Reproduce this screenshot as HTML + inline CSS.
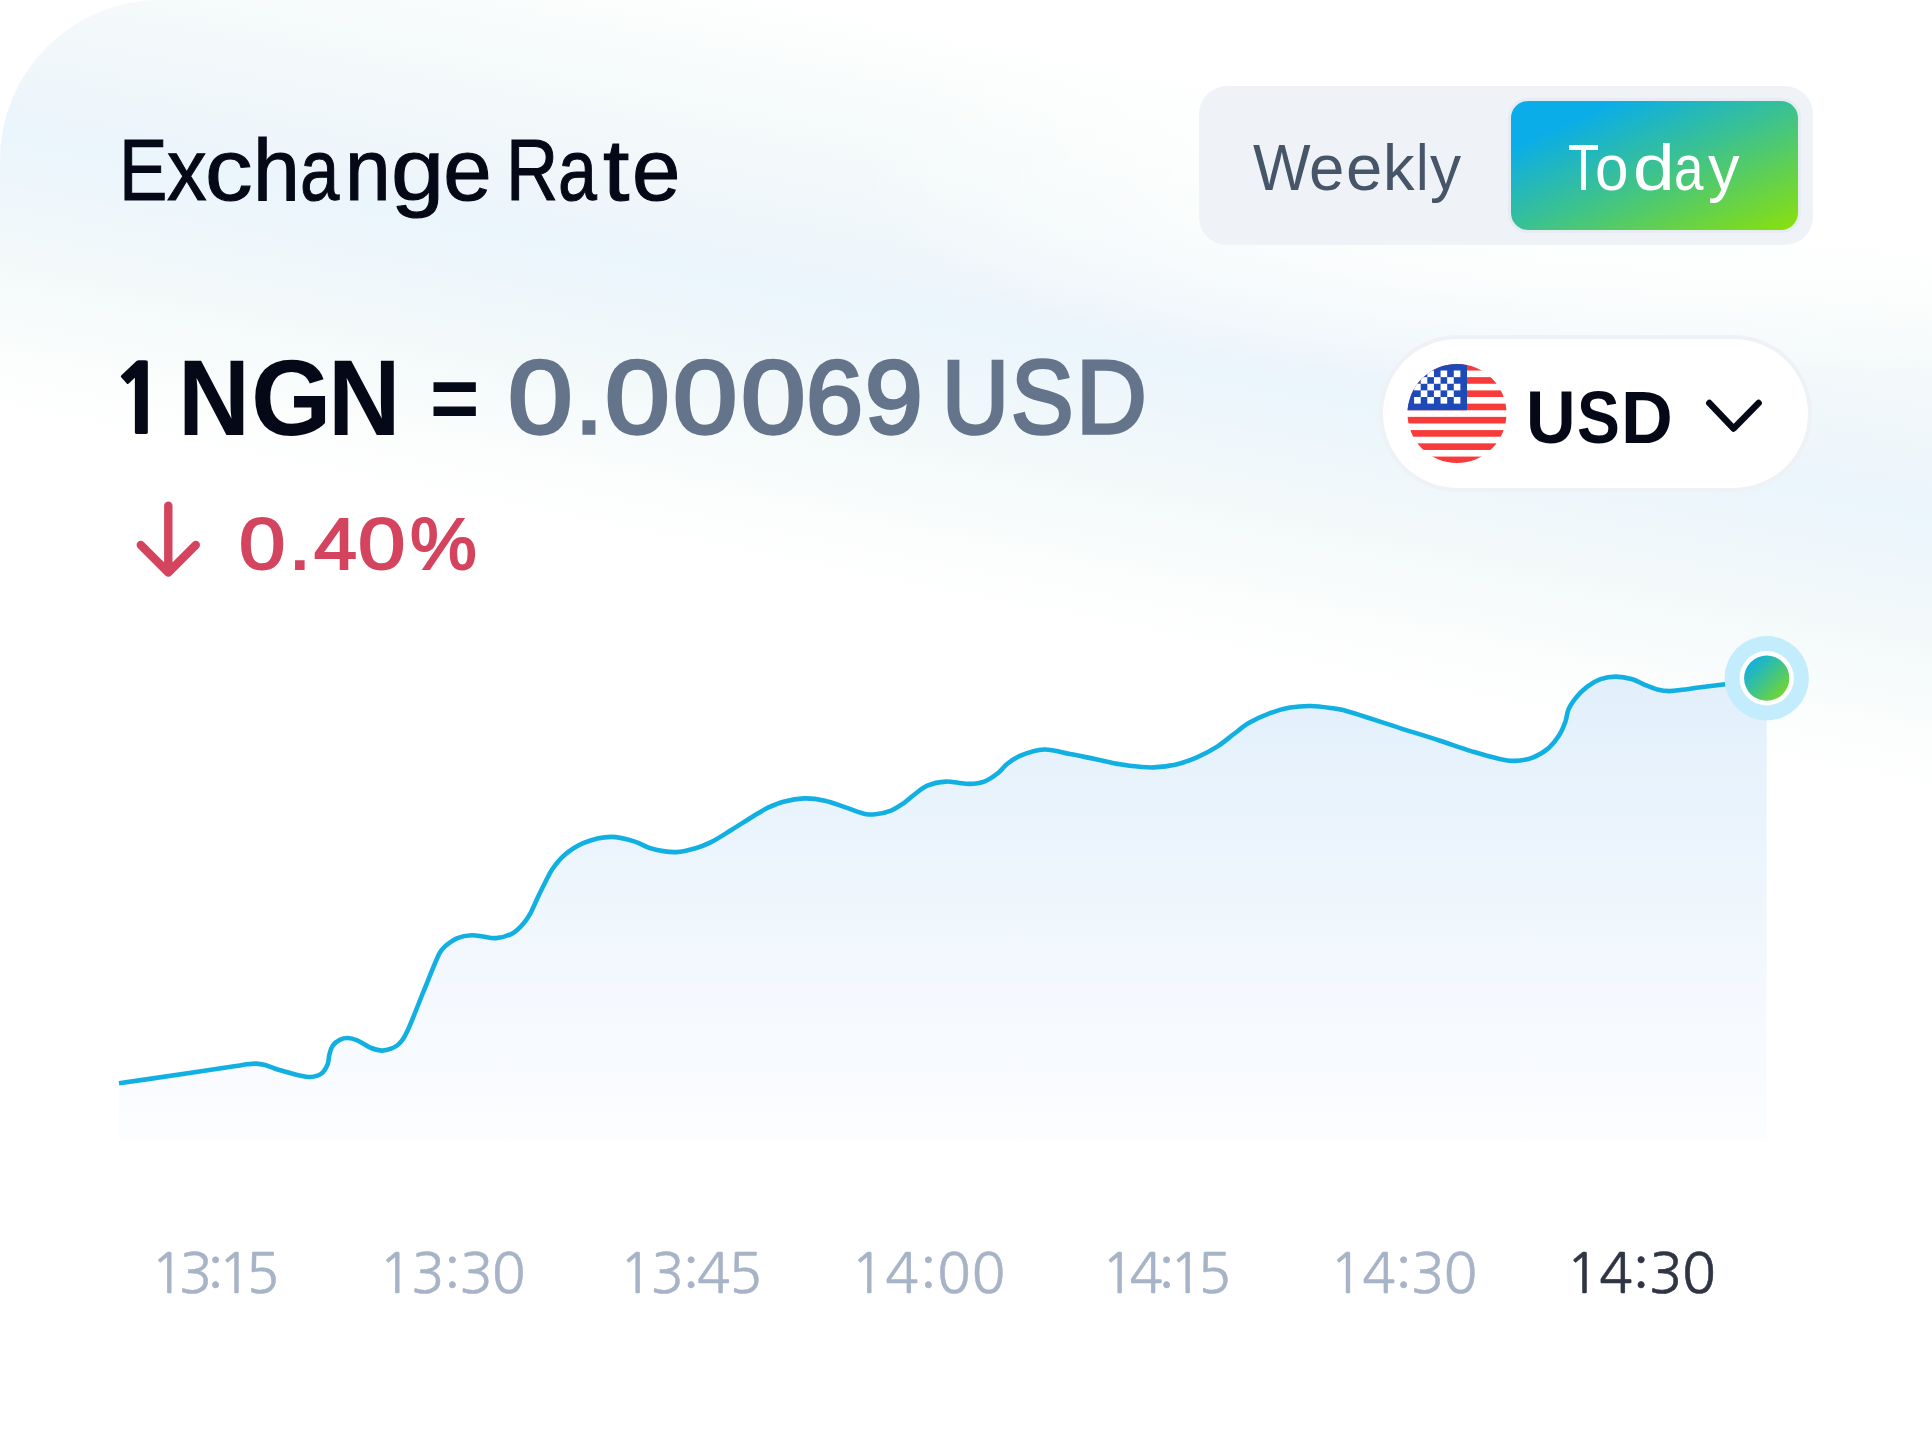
<!DOCTYPE html>
<html><head><meta charset="utf-8">
<style>
*{margin:0;padding:0;box-sizing:border-box}
html,body{width:1932px;height:1447px;overflow:hidden;background:#fff}
body{position:relative;font-family:"Liberation Sans",Arial,sans-serif}
.card{position:absolute;left:0;top:0;width:1932px;height:1447px;border-top-left-radius:160px;overflow:hidden;background:#fff}
.bg1{position:absolute;inset:0;background:linear-gradient(191.15deg,rgba(246,250,250,0) 12%,rgba(245,250,250,1) 19%,rgba(240,247,250,1) 24%,rgba(237,245,252,1) 26.5%,rgba(235,245,252,1) 28.5%,rgba(239,247,251,1) 31.5%,rgba(243,249,249,1) 35%,rgba(247,251,251,1) 37.5%,rgba(252,253,253,1) 40.5%,rgba(255,255,255,0) 44%)}
.bg2{position:absolute;inset:0;background:radial-gradient(800px 220px at 1650px 170px,rgba(255,255,255,0.95) 0%,rgba(255,255,255,0.7) 50%,rgba(255,255,255,0) 100%)}
.inner{display:none}
.rsh{display:none}
.t{position:absolute;white-space:nowrap;line-height:1}
#title{left:118px;top:126px;font-size:87px;color:#050816;letter-spacing:-2.7px}
.toggle{position:absolute;left:1199px;top:86px;width:614px;height:159px;border-radius:28px;background:#eff3f8}
.today{position:absolute;left:1511px;top:101px;width:287px;height:129px;border-radius:17px;background:linear-gradient(to bottom right,#0aade8 18%,#3cc28f 52%,#8be00a 100%);box-shadow:0 0 0 3px #e7ebf2}
#weekly{left:1252.4px;top:136px;font-size:64px;color:#475569}
#todayt{left:1567px;top:136px;font-size:64px;color:#fff;letter-spacing:0.75px}
.rl{position:absolute;top:0;white-space:nowrap;font-size:0;line-height:0}
.g{display:inline-block;position:relative;vertical-align:top;line-height:1;font-size:107px;font-weight:700;color:#050816;transform-origin:0 0;white-space:pre}
.g.tt{font-size:87px;font-weight:400;-webkit-text-stroke:1.1px #050816}
.g.wk{font-size:64px;font-weight:400;color:#475569}
.g.td{font-size:64px;font-weight:400;color:#fff}
.g.pu{font-size:75px;font-weight:700;color:#050816}
.g.s{color:#64748b;font-size:103.5px;font-weight:400;-webkit-text-stroke:3.5px #64748b}
.pill{position:absolute;left:1383px;top:339px;width:425px;height:149px;border-radius:75px;background:#fff;box-shadow:0 0 0 4px #eef1f6}
#usd{left:1526.7px;top:380px;font-size:75px;font-weight:700;color:#050816;transform:scaleX(0.93);transform-origin:0 0}
.g.p{font-size:73px;font-weight:400;color:#d4445f;-webkit-text-stroke:2px #d4445f}
.lbl{position:absolute;top:1244.7px;font-size:56px;font-family:NanumGothic,"Liberation Sans",sans-serif;color:#a7b3c7;-webkit-text-stroke:0.5px #a7b3c7;white-space:nowrap;line-height:1}
.lbl.cur{color:#2f3544;-webkit-text-stroke:0.6px #2f3544}
svg{position:absolute;left:0;top:0}
</style></head><body>
<div class="card"><div class="bg1"></div><div class="bg2"></div><div class="inner"></div><div class="rsh"></div></div>
<div class="rl" style="left:119.26px"><span class="g tt" style="width:48.03px;top:126.00px;transform:scaleX(0.8340)">E</span><span class="g tt" style="width:37.74px;top:126.00px;transform:scaleX(0.9098)">x</span><span class="g tt" style="width:48.16px;top:126.00px;transform:scaleX(1.0919)">c</span><span class="g tt" style="width:46.86px;top:126.00px;transform:scaleX(0.9676)">h</span><span class="g tt" style="width:44.99px;top:126.00px;transform:scaleX(0.8114)">a</span><span class="g tt" style="width:45.76px;top:126.00px;transform:scaleX(0.9432)">n</span><span class="g tt" style="width:52.50px;top:126.00px;transform:scaleX(1.1000)">g</span><span class="g tt" style="width:63.08px;top:126.00px;transform:scaleX(1.0000)">e</span> <span class="g tt" style="width:51.81px;top:126.00px;transform:scaleX(0.8314)">R</span><span class="g tt" style="width:44.82px;top:126.00px;transform:scaleX(0.8023)">a</span><span class="g tt" style="width:28.99px;top:126.00px;transform:scaleX(1.0913)">t</span><span class="g tt" style="width:50.00px;top:126.00px;transform:scaleX(1.0000)">e</span></div>
<div class="toggle"></div>
<div class="today"></div>
<div class="rl" style="left:1253.40px"><span class="g wk" style="width:55.82px;top:136.00px;transform:scaleX(0.9533)">W</span><span class="g wk" style="width:36.42px;top:136.00px;transform:scaleX(0.9933)">e</span><span class="g wk" style="width:37.22px;top:136.00px;transform:scaleX(1.0200)">e</span><span class="g wk" style="width:33.51px;top:136.00px;transform:scaleX(0.9857)">k</span><span class="g wk" style="width:14.13px;top:136.00px;transform:scaleX(0.8833)">l</span><span class="g wk" style="width:40.00px;top:136.00px;transform:scaleX(0.9719)">y</span></div>
<div class="rl" style="left:1568.40px"><span class="g td" style="width:26.98px;top:136.00px;transform:scaleX(0.7973)">T</span><span class="g td" style="width:37.71px;top:136.00px;transform:scaleX(0.9400)">o</span><span class="g td" style="width:41.23px;top:136.00px;transform:scaleX(1.1714)">d</span><span class="g td" style="width:34.08px;top:136.00px;transform:scaleX(0.8273)">a</span><span class="g td" style="width:40.00px;top:136.00px;transform:scaleX(0.9875)">y</span></div>
<div class="rl" style="left:110.70px"><span class="g" style="width:67.78px;top:354.20px;font-size:94.6px;font-weight:800;font-family:NanumGothic,'Liberation Sans',sans-serif">1</span> <span class="g" style="width:72.25px;top:344.70px;transform:scaleX(0.9317)">N</span><span class="g" style="width:77.30px;top:344.70px;transform:scaleX(0.9671)">G</span><span class="g" style="width:102.11px;top:344.70px;transform:scaleX(0.9381)">N</span> <span class="g" style="width:78.31px;top:352.77px;transform:scale(0.7889,0.8390)">=</span> <span class="g s" style="width:66.19px;top:346.30px;transform:scaleX(1.1208)">0</span><span class="g s" style="width:29.91px;top:346.30px;transform:scaleX(0.9692)">.</span><span class="g s" style="width:68.41px;top:346.30px;transform:scaleX(1.1226)">0</span><span class="g s" style="width:68.09px;top:346.30px;transform:scaleX(1.1170)">0</span><span class="g s" style="width:65.48px;top:346.30px;transform:scaleX(1.1208)">0</span><span class="g s" style="width:58.85px;top:346.30px;transform:scaleX(0.9902)">6</span><span class="g s" style="width:76.83px;top:346.30px;transform:scaleX(1.0020)">9</span> <span class="g s" style="width:69.06px;top:346.30px;transform:scaleX(0.8952)">U</span><span class="g s" style="width:64.59px;top:346.30px;transform:scaleX(0.9048)">S</span><span class="g s" style="width:70.00px;top:346.30px;transform:scaleX(0.9462)">D</span></div>
<div class="pill"></div>
<svg width="1932" height="1447" viewBox="0 0 1932 1447">
<defs>
<linearGradient id="fillg" x1="0" y1="675" x2="0" y2="1140" gradientUnits="userSpaceOnUse">
<stop offset="0" stop-color="#e1effb"/>
<stop offset="0.27" stop-color="#e9f3fc"/>
<stop offset="0.55" stop-color="#f0f7fd"/>
<stop offset="0.7" stop-color="#f5f9fe"/>
<stop offset="0.88" stop-color="#f9fbfe"/>
<stop offset="1" stop-color="#fcfdff"/>
</linearGradient>
<linearGradient id="dotg" x1="0" y1="0" x2="1" y2="1">
<stop offset="0.1" stop-color="#0eaee6"/>
<stop offset="0.5" stop-color="#3ec38d"/>
<stop offset="1" stop-color="#86dc10"/>
</linearGradient>
<clipPath id="fl"><circle cx="1457" cy="413.5" r="49.5"/></clipPath>
</defs>
<g clip-path="url(#fl)">
<rect x="1405" y="363" width="104" height="102" fill="#fff"/>
<rect x="1405" y="363.90" width="104" height="6.62" fill="#f83a3a"/>
<rect x="1405" y="377.14" width="104" height="6.62" fill="#f83a3a"/>
<rect x="1405" y="390.38" width="104" height="6.62" fill="#f83a3a"/>
<rect x="1405" y="403.62" width="104" height="6.62" fill="#f83a3a"/>
<rect x="1405" y="416.86" width="104" height="6.62" fill="#f83a3a"/>
<rect x="1405" y="430.10" width="104" height="6.62" fill="#f83a3a"/>
<rect x="1405" y="443.34" width="104" height="6.62" fill="#f83a3a"/>
<rect x="1405" y="456.58" width="104" height="6.62" fill="#f83a3a"/>
<rect x="1405" y="363.90" width="62.00" height="46.34" fill="#1e4ab9"/>
<rect x="1414.11" y="370.52" width="6.61" height="6.62" fill="#fff"/>
<rect x="1427.33" y="370.52" width="6.61" height="6.62" fill="#fff"/>
<rect x="1440.56" y="370.52" width="6.61" height="6.62" fill="#fff"/>
<rect x="1453.78" y="370.52" width="6.61" height="6.62" fill="#fff"/>
<rect x="1420.72" y="377.14" width="6.61" height="6.62" fill="#fff"/>
<rect x="1433.94" y="377.14" width="6.61" height="6.62" fill="#fff"/>
<rect x="1447.17" y="377.14" width="6.61" height="6.62" fill="#fff"/>
<rect x="1414.11" y="383.76" width="6.61" height="6.62" fill="#fff"/>
<rect x="1427.33" y="383.76" width="6.61" height="6.62" fill="#fff"/>
<rect x="1440.56" y="383.76" width="6.61" height="6.62" fill="#fff"/>
<rect x="1453.78" y="383.76" width="6.61" height="6.62" fill="#fff"/>
<rect x="1420.72" y="390.38" width="6.61" height="6.62" fill="#fff"/>
<rect x="1433.94" y="390.38" width="6.61" height="6.62" fill="#fff"/>
<rect x="1447.17" y="390.38" width="6.61" height="6.62" fill="#fff"/>
<rect x="1414.11" y="397.00" width="6.61" height="6.62" fill="#fff"/>
<rect x="1427.33" y="397.00" width="6.61" height="6.62" fill="#fff"/>
<rect x="1440.56" y="397.00" width="6.61" height="6.62" fill="#fff"/>
<rect x="1453.78" y="397.00" width="6.61" height="6.62" fill="#fff"/>
</g>
<path d="M1709.3 403 L1733.6 428.5 L1758.6 403" fill="none" stroke="#050816" stroke-width="6.5" stroke-linecap="round" stroke-linejoin="round"/>
<path d="M168.3 505.8 V572.5 M140.8 545 L168.3 572.5 L195.8 545" fill="none" stroke="#d4445f" stroke-width="8.4" stroke-linecap="round" stroke-linejoin="round"/>
<path d="M119.0 1083.3 C145.3 1079.5 176.2 1075.0 197.8 1071.8 C212.8 1069.6 227.1 1067.4 236.0 1066.0 C240.8 1065.3 243.5 1064.7 247.0 1064.3 C250.1 1063.9 253.0 1063.5 256.0 1063.6 C259.0 1063.7 262.0 1064.2 265.0 1065.0 C268.0 1065.8 271.0 1067.2 274.0 1068.2 C277.0 1069.2 279.6 1070.0 283.1 1071.0 C287.8 1072.3 294.8 1074.4 299.7 1075.4 C303.5 1076.2 306.5 1077.2 310.0 1077.0 C313.8 1076.7 318.5 1075.7 321.5 1073.5 C324.4 1071.4 326.4 1067.5 327.7 1064.2 C328.9 1061.2 328.5 1057.9 329.3 1054.8 C330.1 1051.7 330.8 1048.3 332.6 1045.8 C334.4 1043.2 337.5 1040.9 340.2 1039.6 C342.6 1038.4 345.3 1037.9 348.0 1038.0 C350.9 1038.1 353.9 1039.0 357.2 1040.3 C361.5 1042.0 366.7 1046.3 371.2 1048.0 C375.0 1049.5 378.6 1050.6 382.1 1050.6 C385.2 1050.6 388.5 1049.7 391.1 1048.7 C393.3 1047.9 395.2 1046.8 397.0 1045.5 C398.9 1044.1 400.5 1042.5 402.1 1040.4 C404.1 1037.8 405.5 1034.9 407.6 1030.5 C411.6 1022.2 417.5 1006.2 422.5 994.0 C427.5 981.8 434.1 964.8 437.5 957.5 C439.0 954.3 439.5 952.8 441.0 950.8 C442.5 948.8 444.1 947.1 446.3 945.3 C449.2 942.9 453.3 939.8 457.4 938.1 C461.7 936.3 467.3 935.4 471.8 935.2 C475.7 935.0 479.0 936.0 482.8 936.5 C487.0 937.0 491.5 938.5 496.1 938.1 C501.4 937.7 508.0 935.9 512.7 933.2 C517.1 930.7 520.7 926.7 523.7 923.2 C526.4 920.0 528.3 917.1 530.4 913.3 C532.9 908.8 535.1 903.1 537.5 898.0 C539.9 893.0 542.4 887.8 544.9 883.0 C547.3 878.4 549.1 873.9 552.1 869.5 C555.5 864.6 559.6 859.3 564.5 855.0 C569.8 850.4 576.1 846.1 583.2 843.1 C591.3 839.7 602.2 837.0 611.1 836.9 C619.3 836.8 627.9 839.4 634.9 841.6 C640.8 843.4 644.5 846.6 650.5 848.3 C657.9 850.4 668.3 852.3 676.3 852.1 C683.2 851.9 689.5 850.1 695.5 848.3 C701.0 846.7 705.6 844.8 711.1 842.1 C717.6 838.9 724.9 833.9 731.8 829.7 C738.7 825.5 746.1 820.6 752.5 816.7 C758.0 813.4 762.7 810.2 768.0 807.7 C773.1 805.3 777.9 803.2 783.5 801.7 C789.8 800.0 797.3 798.6 804.2 798.4 C811.1 798.2 818.1 799.2 824.9 800.7 C831.9 802.2 838.7 805.2 845.6 807.4 C852.5 809.7 860.7 813.3 866.3 814.2 C869.9 814.8 872.1 814.6 875.5 814.2 C880.0 813.7 886.3 812.5 891.1 810.6 C895.6 808.8 899.6 806.0 903.5 803.3 C907.2 800.7 910.1 797.8 913.8 795.0 C917.9 791.9 922.2 787.9 927.3 785.7 C932.8 783.3 940.3 781.9 945.9 781.6 C950.4 781.3 954.3 782.4 958.3 782.8 C962.2 783.2 965.7 784.0 969.7 783.9 C974.3 783.8 979.6 783.3 984.2 781.6 C989.0 779.8 993.8 776.4 997.7 773.3 C1001.3 770.5 1003.4 766.8 1007.0 764.0 C1010.9 760.9 1015.2 758.0 1020.5 755.7 C1027.1 752.9 1036.2 749.8 1044.3 749.5 C1052.7 749.2 1061.4 752.4 1070.0 754.0 C1078.6 755.6 1087.4 757.5 1095.9 759.2 C1104.1 760.9 1112.3 763.0 1120.0 764.3 C1127.0 765.5 1134.0 766.3 1140.0 766.8 C1144.9 767.2 1148.4 767.6 1153.5 767.4 C1160.1 767.1 1168.9 766.2 1176.2 764.5 C1183.3 762.8 1190.1 760.2 1196.9 757.3 C1203.9 754.3 1211.3 750.4 1217.6 746.4 C1223.3 742.7 1228.0 738.4 1233.2 734.5 C1238.4 730.6 1243.0 726.5 1248.7 723.1 C1254.9 719.4 1262.4 715.9 1269.4 713.3 C1276.2 710.8 1283.1 708.8 1290.1 707.6 C1296.9 706.4 1303.9 705.9 1310.8 706.0 C1317.7 706.1 1325.8 707.3 1331.5 708.1 C1335.5 708.6 1337.0 708.7 1341.8 709.8 C1353.3 712.6 1382.4 722.6 1400.0 728.1 C1414.6 732.7 1427.5 736.6 1440.0 740.7 C1451.0 744.3 1461.2 748.1 1471.1 751.1 C1480.1 753.8 1489.1 756.6 1496.9 758.3 C1503.3 759.7 1508.6 761.0 1514.5 760.9 C1520.7 760.8 1527.4 759.5 1533.2 757.3 C1538.8 755.2 1544.3 751.8 1548.7 748.0 C1552.8 744.5 1556.2 740.0 1559.0 735.6 C1561.7 731.4 1563.7 726.6 1565.3 722.1 C1566.8 717.9 1566.8 713.5 1568.4 709.7 C1569.9 706.0 1571.9 702.8 1574.6 699.3 C1577.8 695.1 1582.5 690.3 1587.0 686.9 C1591.2 683.7 1595.7 680.9 1600.5 679.2 C1605.3 677.5 1610.8 676.6 1616.0 676.6 C1621.4 676.6 1627.4 677.8 1632.4 679.3 C1636.9 680.6 1640.6 683.1 1644.8 684.8 C1648.9 686.5 1653.1 688.4 1657.3 689.5 C1661.4 690.5 1665.6 691.1 1669.7 691.1 C1673.8 691.1 1677.6 690.3 1682.1 689.8 C1687.7 689.1 1694.2 688.1 1700.7 687.3 C1707.8 686.4 1714.4 685.6 1723.1 684.5 C1735.2 682.9 1752.2 680.7 1766.7 678.8 L1766.7 1140 L119 1140 Z" fill="url(#fillg)"/>
<path d="M119.0 1083.3 C145.3 1079.5 176.2 1075.0 197.8 1071.8 C212.8 1069.6 227.1 1067.4 236.0 1066.0 C240.8 1065.3 243.5 1064.7 247.0 1064.3 C250.1 1063.9 253.0 1063.5 256.0 1063.6 C259.0 1063.7 262.0 1064.2 265.0 1065.0 C268.0 1065.8 271.0 1067.2 274.0 1068.2 C277.0 1069.2 279.6 1070.0 283.1 1071.0 C287.8 1072.3 294.8 1074.4 299.7 1075.4 C303.5 1076.2 306.5 1077.2 310.0 1077.0 C313.8 1076.7 318.5 1075.7 321.5 1073.5 C324.4 1071.4 326.4 1067.5 327.7 1064.2 C328.9 1061.2 328.5 1057.9 329.3 1054.8 C330.1 1051.7 330.8 1048.3 332.6 1045.8 C334.4 1043.2 337.5 1040.9 340.2 1039.6 C342.6 1038.4 345.3 1037.9 348.0 1038.0 C350.9 1038.1 353.9 1039.0 357.2 1040.3 C361.5 1042.0 366.7 1046.3 371.2 1048.0 C375.0 1049.5 378.6 1050.6 382.1 1050.6 C385.2 1050.6 388.5 1049.7 391.1 1048.7 C393.3 1047.9 395.2 1046.8 397.0 1045.5 C398.9 1044.1 400.5 1042.5 402.1 1040.4 C404.1 1037.8 405.5 1034.9 407.6 1030.5 C411.6 1022.2 417.5 1006.2 422.5 994.0 C427.5 981.8 434.1 964.8 437.5 957.5 C439.0 954.3 439.5 952.8 441.0 950.8 C442.5 948.8 444.1 947.1 446.3 945.3 C449.2 942.9 453.3 939.8 457.4 938.1 C461.7 936.3 467.3 935.4 471.8 935.2 C475.7 935.0 479.0 936.0 482.8 936.5 C487.0 937.0 491.5 938.5 496.1 938.1 C501.4 937.7 508.0 935.9 512.7 933.2 C517.1 930.7 520.7 926.7 523.7 923.2 C526.4 920.0 528.3 917.1 530.4 913.3 C532.9 908.8 535.1 903.1 537.5 898.0 C539.9 893.0 542.4 887.8 544.9 883.0 C547.3 878.4 549.1 873.9 552.1 869.5 C555.5 864.6 559.6 859.3 564.5 855.0 C569.8 850.4 576.1 846.1 583.2 843.1 C591.3 839.7 602.2 837.0 611.1 836.9 C619.3 836.8 627.9 839.4 634.9 841.6 C640.8 843.4 644.5 846.6 650.5 848.3 C657.9 850.4 668.3 852.3 676.3 852.1 C683.2 851.9 689.5 850.1 695.5 848.3 C701.0 846.7 705.6 844.8 711.1 842.1 C717.6 838.9 724.9 833.9 731.8 829.7 C738.7 825.5 746.1 820.6 752.5 816.7 C758.0 813.4 762.7 810.2 768.0 807.7 C773.1 805.3 777.9 803.2 783.5 801.7 C789.8 800.0 797.3 798.6 804.2 798.4 C811.1 798.2 818.1 799.2 824.9 800.7 C831.9 802.2 838.7 805.2 845.6 807.4 C852.5 809.7 860.7 813.3 866.3 814.2 C869.9 814.8 872.1 814.6 875.5 814.2 C880.0 813.7 886.3 812.5 891.1 810.6 C895.6 808.8 899.6 806.0 903.5 803.3 C907.2 800.7 910.1 797.8 913.8 795.0 C917.9 791.9 922.2 787.9 927.3 785.7 C932.8 783.3 940.3 781.9 945.9 781.6 C950.4 781.3 954.3 782.4 958.3 782.8 C962.2 783.2 965.7 784.0 969.7 783.9 C974.3 783.8 979.6 783.3 984.2 781.6 C989.0 779.8 993.8 776.4 997.7 773.3 C1001.3 770.5 1003.4 766.8 1007.0 764.0 C1010.9 760.9 1015.2 758.0 1020.5 755.7 C1027.1 752.9 1036.2 749.8 1044.3 749.5 C1052.7 749.2 1061.4 752.4 1070.0 754.0 C1078.6 755.6 1087.4 757.5 1095.9 759.2 C1104.1 760.9 1112.3 763.0 1120.0 764.3 C1127.0 765.5 1134.0 766.3 1140.0 766.8 C1144.9 767.2 1148.4 767.6 1153.5 767.4 C1160.1 767.1 1168.9 766.2 1176.2 764.5 C1183.3 762.8 1190.1 760.2 1196.9 757.3 C1203.9 754.3 1211.3 750.4 1217.6 746.4 C1223.3 742.7 1228.0 738.4 1233.2 734.5 C1238.4 730.6 1243.0 726.5 1248.7 723.1 C1254.9 719.4 1262.4 715.9 1269.4 713.3 C1276.2 710.8 1283.1 708.8 1290.1 707.6 C1296.9 706.4 1303.9 705.9 1310.8 706.0 C1317.7 706.1 1325.8 707.3 1331.5 708.1 C1335.5 708.6 1337.0 708.7 1341.8 709.8 C1353.3 712.6 1382.4 722.6 1400.0 728.1 C1414.6 732.7 1427.5 736.6 1440.0 740.7 C1451.0 744.3 1461.2 748.1 1471.1 751.1 C1480.1 753.8 1489.1 756.6 1496.9 758.3 C1503.3 759.7 1508.6 761.0 1514.5 760.9 C1520.7 760.8 1527.4 759.5 1533.2 757.3 C1538.8 755.2 1544.3 751.8 1548.7 748.0 C1552.8 744.5 1556.2 740.0 1559.0 735.6 C1561.7 731.4 1563.7 726.6 1565.3 722.1 C1566.8 717.9 1566.8 713.5 1568.4 709.7 C1569.9 706.0 1571.9 702.8 1574.6 699.3 C1577.8 695.1 1582.5 690.3 1587.0 686.9 C1591.2 683.7 1595.7 680.9 1600.5 679.2 C1605.3 677.5 1610.8 676.6 1616.0 676.6 C1621.4 676.6 1627.4 677.8 1632.4 679.3 C1636.9 680.6 1640.6 683.1 1644.8 684.8 C1648.9 686.5 1653.1 688.4 1657.3 689.5 C1661.4 690.5 1665.6 691.1 1669.7 691.1 C1673.8 691.1 1677.6 690.3 1682.1 689.8 C1687.7 689.1 1694.2 688.1 1700.7 687.3 C1707.8 686.4 1714.4 685.6 1723.1 684.5 C1735.2 682.9 1752.2 680.7 1766.7 678.8" fill="none" stroke="#12b0e2" stroke-width="4.6" stroke-linecap="butt" stroke-linejoin="round"/>
<circle cx="1766.7" cy="678.2" r="42.2" fill="#c3edfc"/>
<circle cx="1766.7" cy="678.2" r="27.2" fill="#fff"/>
<circle cx="1766.7" cy="678.2" r="22.6" fill="url(#dotg)"/>
</svg>
<div class="rl" style="left:1526.12px"><span class="g pu" style="width:51.16px;top:380.00px;transform:scaleX(0.9156)">U</span><span class="g pu" style="width:43.93px;top:380.00px;transform:scaleX(0.8578)">S</span><span class="g pu" style="width:40.00px;top:380.00px;transform:scaleX(0.9565)">D</span></div>
<div class="rl" style="left:239.32px"><span class="g p" style="width:49.58px;top:506.60px;transform:scaleX(1.1405)">0</span><span class="g p" style="width:25.44px;top:506.60px;transform:scaleX(1.0667)">.</span><span class="g p" style="width:43.73px;top:506.60px;transform:scaleX(1.0579)">4</span><span class="g p" style="width:51.97px;top:506.60px;transform:scaleX(1.1649)">0</span><span class="g p" style="width:70.00px;top:506.60px;transform:scaleX(1.0279)">%</span></div>
<div class="lbl" style="left:150.6px;letter-spacing:-5.90px">13:15</div>
<div class="lbl" style="left:378.4px;letter-spacing:-1.35px">13:30</div>
<div class="lbl" style="left:618.9px;letter-spacing:-2.30px">13:45</div>
<div class="lbl" style="left:850.4px;letter-spacing:0.60px">14:00</div>
<div class="lbl" style="left:1101.0px;letter-spacing:-5.60px">14:15</div>
<div class="lbl" style="left:1329.3px;letter-spacing:-1.15px">14:30</div>
<div class="lbl cur" style="left:1565.7px;letter-spacing:-0.60px">14:30</div>
</body></html>
